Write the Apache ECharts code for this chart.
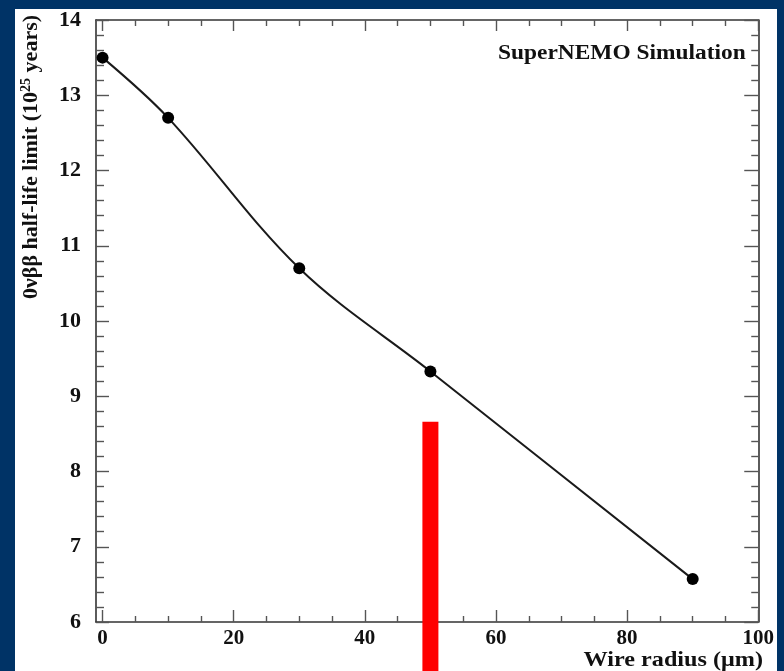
<!DOCTYPE html>
<html>
<head>
<meta charset="utf-8">
<script src="https://cdn.jsdelivr.net/npm/echarts@6/dist/echarts.min.js"></script>
<style>
  html, body { margin: 0; padding: 0; background: #003366; width: 784px; height: 671px; overflow: hidden; }
  #panel { position: absolute; left: 15px; top: 9px; width: 762px; height: 662px; background: #ffffff; }
</style>
</head>
<body>
<div id="panel"></div>
<script>
// Wire radius (µm) and the corresponding 0νββ half-life limit (10^25 years)
const wireRadius = [0, 10, 30, 50, 90];
const halfLifeLimit = [13.5, 12.7, 10.7, 9.33, 6.57];

// Tick positions on the radius axis
const radiusMajorTicks = [0, 20, 40, 60, 80, 100];
const radiusMinorTicks = [5, 10, 15, 25, 30, 35, 45, 50, 55, 65, 70, 75, 85, 90, 95];

// Highlighted wire radius (red marker bar) and the level where it ends
const highlightRadius = [50];
const highlightTop = [8.66];

const SERIF = '"Liberation Serif", "DejaVu Serif", serif';
const FRAME = '#333333';
const TICK = '#555555';

const chart = echarts.init(document.getElementById('panel'), null, { renderer: 'canvas' });

function xAxisDef(position, ticks, len, withLine, withLabels) {
  return {
    type: 'value', position: position, min: -1, max: 100,
    axisLine: { show: withLine, onZero: false, lineStyle: { color: FRAME, width: 1.6 } },
    axisTick: { show: true, inside: true, length: len, customValues: ticks,
                lineStyle: { color: TICK, width: 1.4 } },
    axisLabel: withLabels ? {
      show: true, customValues: radiusMajorTicks, margin: 6,
      fontFamily: SERIF, fontWeight: 'bold', fontSize: 21, color: '#111'
    } : { show: false },
    splitLine: { show: false }
  };
}

function yAxisDef(position, majorLen, minorLen, withLabels) {
  return {
    type: 'value', position: position, min: 6, max: 14, interval: 1,
    axisLine: { show: true, onZero: false, lineStyle: { color: FRAME, width: 1.6 } },
    axisTick: { show: true, inside: true, length: majorLen, lineStyle: { color: TICK, width: 1.4 } },
    minorTick: { show: true, splitNumber: 5, length: minorLen, lineStyle: { color: TICK, width: 1.4 } },
    axisLabel: withLabels ? {
      show: true, margin: 15,
      fontFamily: SERIF, fontWeight: 'bold', fontSize: 22, color: '#111'
    } : { show: false },
    splitLine: { show: false }
  };
}

const option = {
  animation: false,
  backgroundColor: '#ffffff',
  grid: { left: 81, right: 14, top: 6, bottom: 49, containLabel: false },
  xAxis: [
    xAxisDef('bottom', radiusMajorTicks, 12, true, true),
    xAxisDef('bottom', radiusMinorTicks, 6, false, false),
    xAxisDef('top', radiusMajorTicks, 11, true, false),
    xAxisDef('top', radiusMinorTicks, 6, false, false)
  ],
  yAxis: [
    yAxisDef('left', 13, 8, true),
    yAxisDef('right', 14, 7, false)
  ],
  series: [
    {
      type: 'line',
      xAxisIndex: 0, yAxisIndex: 0,
      data: wireRadius.map((r, i) => [r, halfLifeLimit[i]]),
      smooth: 0.35,
      symbol: 'circle',
      symbolSize: 12,
      itemStyle: { color: '#000000' },
      lineStyle: { color: '#1a1a1a', width: 2 },
      z: 3
    },
    {
      type: 'custom',
      xAxisIndex: 0, yAxisIndex: 0,
      clip: false,
      data: highlightRadius.map((r, i) => [r, highlightTop[i]]),
      renderItem: function (params, api) {
        const p = api.coord([api.value(0), api.value(1)]);
        return {
          type: 'rect',
          shape: { x: p[0] - 8, y: p[1], width: 16, height: api.getHeight() - p[1] },
          style: { fill: '#ff0000' }
        };
      },
      z: 4
    }
  ],
  graphic: [
    {
      type: 'text',
      x: 16, y: 148,
      rotation: Math.PI / 2,
      style: {
        text: '0νββ half-life limit (10{sup|25} years)',
        fontFamily: SERIF, fontWeight: 'bold', fontSize: 22, fill: '#111',
        align: 'center', verticalAlign: 'middle',
        rich: {
          sup: { fontFamily: SERIF, fontWeight: 'bold', fontSize: 14, fill: '#111',
                 verticalAlign: 'top', padding: [0, 0, 10, 0] }
        }
      }
    },
    {
      type: 'text',
      x: 748, y: 651,
      scaleX: 1.1,
      style: {
        text: 'Wire radius (μm)',
        fontFamily: SERIF, fontWeight: 'bold', fontSize: 22, fill: '#111',
        align: 'right', verticalAlign: 'middle'
      }
    },
    {
      type: 'text',
      x: 483, y: 45,
      scaleX: 1.17,
      style: {
        text: 'SuperNEMO Simulation',
        fontFamily: SERIF, fontWeight: 'bold', fontSize: 20, fill: '#111',
        align: 'left', verticalAlign: 'middle'
      }
    }
  ]
};

chart.setOption(option);
</script>
</body>
</html>
